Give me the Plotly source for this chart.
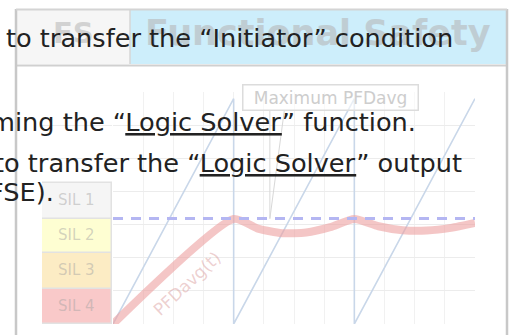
import plotly.graph_objects as go

W, H = 517, 335

# SIL bands (y units of the chart, bottom to top)
sil_labels = ["SIL 4", "SIL 3", "SIL 2", "SIL 1"]
sil_base = [0.0, 1.07, 2.13, 3.18]
sil_height = [1.07, 1.06, 1.05, 1.07]
sil_colors = ["#f9c9c9", "#fcecc4", "#fefed2", "#f5f5f5"]

# PFD(t) sawtooth, time in test intervals
pfd_t = [0, 1, 1, 2, 2, 3]
pfd_v = [0, 6.8, 0, 6.8, 0, 6.8]

# PFDavg(t)
avg_t = [0, 1.0, 1.2, 1.4, 1.6, 1.8, 2.0, 2.2, 2.4, 2.6, 2.8, 3.0]
avg_v = [0, 3.17, 2.88, 2.74, 2.76, 2.92, 3.17, 2.95, 2.83, 2.82, 2.9, 3.05]

max_pfdavg = 3.18
callout_t = [1.3, 1.3, None, 1.3, 1.42]
callout_v = [3.18, 6.45, None, 3.18, 6.45]

text_lines = [
    "to transfer the \u201cInitiator\u201d condition",
    "ming the \u201c<u>Logic Solver</u>\u201d function.",
    "to transfer the \u201c<u>Logic Solver</u>\u201d output",
    "FSE).",
]


def px(x):
    return x / W


def py(y):
    return 1 - y / H


fig = go.Figure()

fig.add_trace(go.Bar(
    x=["SIL"] * 4, y=sil_height, base=sil_base, text=sil_labels,
    marker=dict(color=sil_colors, line=dict(color="#e2e2e2", width=1.5)),
    textposition="inside", insidetextanchor="middle",
    textfont=dict(family="DejaVu Sans", size=15, color="rgba(160,160,160,0.45)"),
    width=1, xaxis="x2", yaxis="y", showlegend=False, hoverinfo="skip",
))

fig.add_trace(go.Scatter(
    x=pfd_t, y=pfd_v, mode="lines",
    line=dict(color="#c9d7e9", width=1.6), showlegend=False,
))

fig.add_trace(go.Scatter(
    x=avg_t, y=avg_v, mode="lines",
    line=dict(color="rgba(236,160,160,0.6)", width=8, shape="spline", smoothing=0.6),
    showlegend=False,
))

fig.add_trace(go.Scatter(
    x=[0, 3], y=[max_pfdavg, max_pfdavg], mode="lines",
    line=dict(color="#b4b6f2", width=3, dash="10px,8px"), showlegend=False,
))

fig.add_trace(go.Scatter(
    x=callout_t, y=callout_v, mode="lines",
    line=dict(color="#d8d8d8", width=1), showlegend=False,
))

shapes = [
    # header cells
    dict(type="rect", xref="paper", yref="paper", x0=px(17), x1=px(130), y0=py(64), y1=py(10),
         fillcolor="#f6f6f6", line=dict(width=0), layer="below"),
    dict(type="rect", xref="paper", yref="paper", x0=px(130), x1=px(506), y0=py(64), y1=py(10),
         fillcolor="#cdeefb", line=dict(width=0), layer="below"),
    dict(type="line", xref="paper", yref="paper", x0=px(130), x1=px(130), y0=py(64), y1=py(10),
         line=dict(color="#d6d6d6", width=1.5)),
    dict(type="line", xref="paper", yref="paper", x0=px(16), x1=px(507), y0=py(65.5), y1=py(65.5),
         line=dict(color="#d0d0d0", width=2)),
    # outer frame
    dict(type="line", xref="paper", yref="paper", x0=px(16), x1=px(16), y0=py(9), y1=py(340),
         line=dict(color="#c8c8c8", width=2.5)),
    dict(type="line", xref="paper", yref="paper", x0=px(507), x1=px(507), y0=py(9), y1=py(340),
         line=dict(color="#c8c8c8", width=2.5)),
    dict(type="line", xref="paper", yref="paper", x0=px(16), x1=px(507), y0=py(9.5), y1=py(9.5),
         line=dict(color="#d4d4d4", width=2)),
]

annotations = [
    dict(text="<b>FS</b>", x=px(73), y=py(33), xref="paper", yref="paper", showarrow=False,
         xanchor="center", yanchor="middle",
         font=dict(family="DejaVu Sans", size=29, color="#d2d2d2")),
    dict(text="<b>Functional Safety</b>", x=px(318), y=py(33), xref="paper", yref="paper",
         xanchor="center", yanchor="middle",
         showarrow=False, font=dict(family="DejaVu Sans", size=35, color="#bfcdd3")),
    dict(text="Maximum PFDavg", x=px(330), y=py(97), xref="paper", yref="paper", showarrow=False,
         xanchor="center", yanchor="middle", width=170,
         font=dict(family="DejaVu Sans", size=17, color="#cdcdcd"),
         bordercolor="#dcdcdc", borderwidth=1.5, borderpad=2, bgcolor="rgba(255,255,255,0.6)"),
    dict(text="PFDavg(t)", x=0.61, y=1.21, xref="x", yref="y", showarrow=False, textangle=-43,
         font=dict(family="DejaVu Sans", size=17, color="rgba(215,150,150,0.45)")),
]

line_x = [455, 418, -8, 56]
line_anchor = ["right", "right", "left", "right"]
line_mid = [38, 122, 163, 192]
for t, xr, xa, ym in zip(text_lines, line_x, line_anchor, line_mid):
    annotations.append(dict(
        text=t, x=px(xr), y=py(ym), xref="paper", yref="paper", xanchor=xa,
        yanchor="middle", showarrow=False,
        font=dict(family="DejaVu Sans", size=25.6, color="#222222"),
    ))

fig.update_layout(
    width=W, height=H, margin=dict(l=0, r=0, t=0, b=0),
    paper_bgcolor="white", plot_bgcolor="white",
    bargap=0,
    xaxis=dict(domain=[px(113), px(475)], range=[0, 3], dtick=0.25, showgrid=True,
               gridcolor="#f1f1f1", showticklabels=False, zeroline=False, ticks=""),
    xaxis2=dict(domain=[px(42), px(112)], range=[-0.5, 0.5], showgrid=False,
                showticklabels=False, zeroline=False, anchor="y"),
    yaxis=dict(domain=[py(324), py(92)], range=[0, 7], dtick=1, showgrid=True,
               gridcolor="#ececec", showticklabels=False, zeroline=False, ticks=""),
    shapes=shapes, annotations=annotations,
    font=dict(family="DejaVu Sans"),
)

fig.write_html("out.html", config={"displayModeBar": False},
               post_script="document.body.style.margin='0px';")
